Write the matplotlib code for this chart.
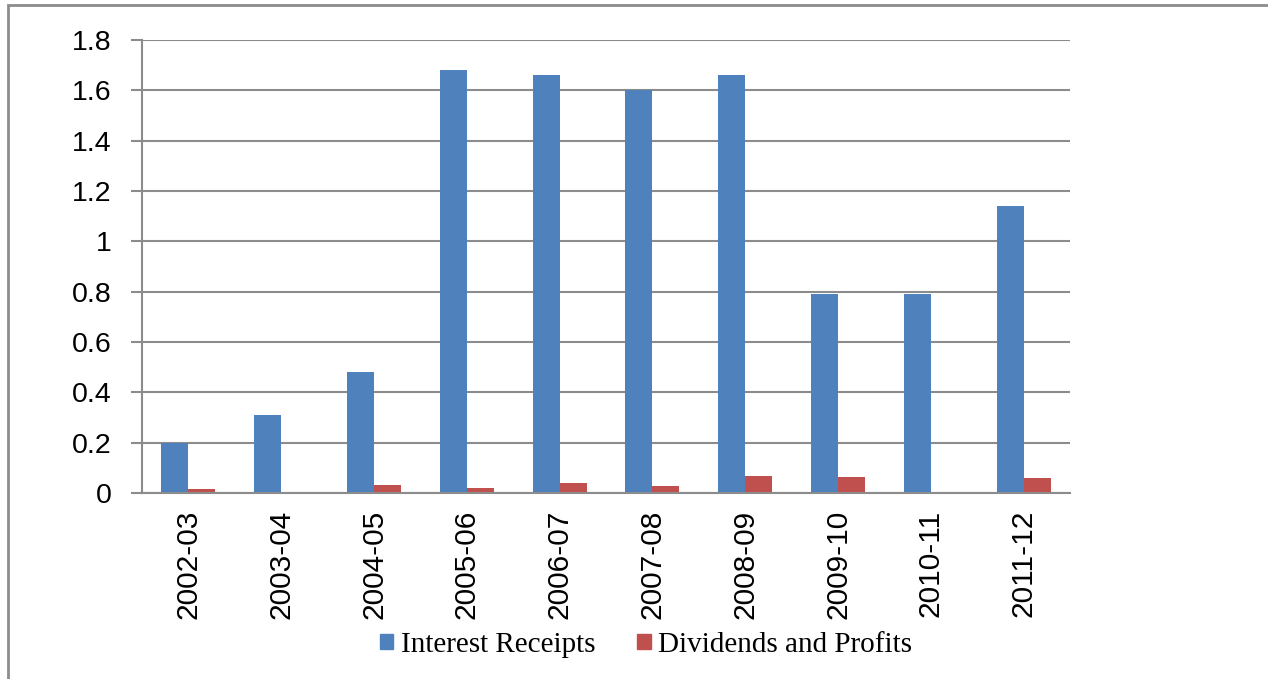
import matplotlib.pyplot as plt
import matplotlib.patches as mpatches
import numpy as np

years = ['2002-03', '2003-04', '2004-05', '2005-06', '2006-07',
         '2007-08', '2008-09', '2009-10', '2010-11', '2011-12']
interest = [0.20, 0.31, 0.48, 1.68, 1.66, 1.60, 1.66, 0.79, 0.79, 1.14]
dividends = [0.015, 0.002, 0.033, 0.019, 0.041, 0.029, 0.069, 0.065, 0.005, 0.061]

blue = '#4F81BD'
red = '#C0504D'
grey = '#8C8C8C'

fig = plt.figure(figsize=(12.68, 6.79), dpi=100)
ax = fig.add_axes([142/1268, 1-493/679, (1070-142)/1268, (493-40)/679])

x = np.arange(len(years))
w = 0.29
ax.bar(x - w, interest, w, align='edge', color=blue, label='Interest Receipts')
ax.bar(x, dividends, w, align='edge', color=red, label='Dividends and Profits')

ax.set_xlim(-0.5, len(years) - 0.5)
ax.set_ylim(0, 1.8)
ax.set_yticks(np.arange(0, 1.81, 0.2))
ax.set_yticklabels(['0', '0.2', '0.4', '0.6', '0.8', '1', '1.2', '1.4', '1.6', '1.8'],
                   fontfamily='Liberation Sans', fontsize=20.5)
ax.set_xticks(x)
ax.set_xticklabels(years, rotation=90, fontfamily='Liberation Sans', fontsize=21.5)

ax.yaxis.grid(True, color=grey, linewidth=1.5)
ax.set_axisbelow(True)
for s in ['top', 'right']:
    ax.spines[s].set_visible(False)
for s in ['left', 'bottom']:
    ax.spines[s].set_color(grey)
    ax.spines[s].set_linewidth(1.5)
ax.tick_params(axis='y', length=8, width=1.5, color=grey, pad=14)
ax.tick_params(axis='x', length=0, pad=12)

# outer frame of the chart area
frame = mpatches.Rectangle((8/1268, -0.5), 2, 1.5 - 5/679, transform=fig.transFigure,
                           fill=False, edgecolor=grey, linewidth=2, clip_on=False)
fig.patches.append(frame)

handles = [mpatches.Patch(color=blue), mpatches.Patch(color=red)]
fig.legend(handles, ['Interest Receipts', 'Dividends and Profits'],
           loc='center', bbox_to_anchor=(646/1268, 1-645/679), ncol=2,
           frameon=False, handlelength=0.45, handleheight=0.45, handletextpad=0.25,
           columnspacing=1.45, prop={'family': 'Liberation Serif', 'size': 21})

fig.savefig('out.png', dpi=100)
